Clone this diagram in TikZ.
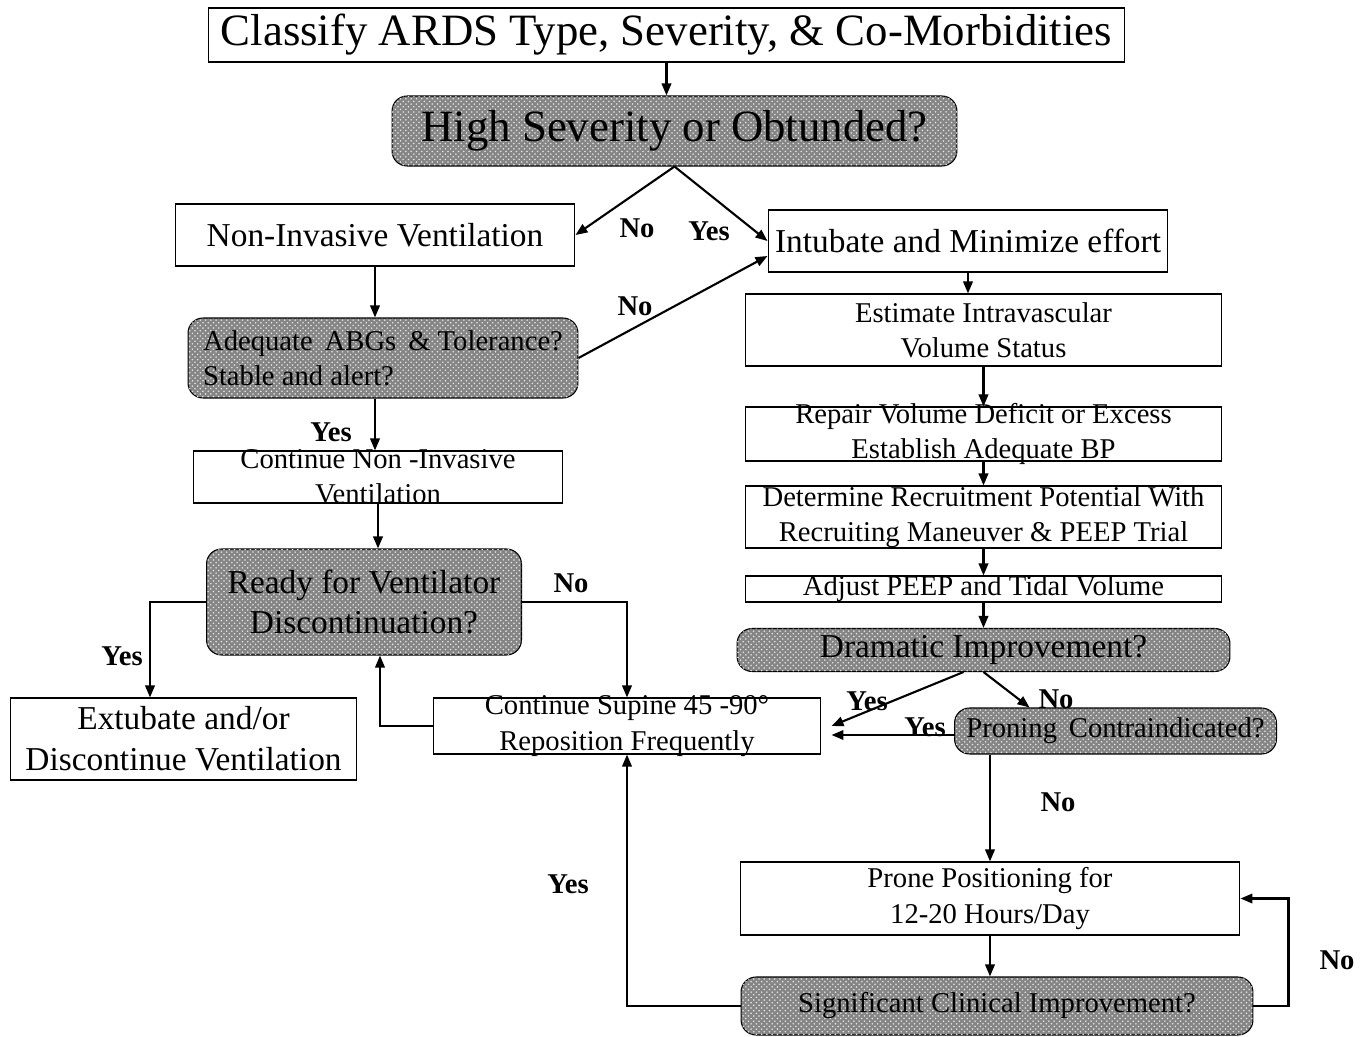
\documentclass[tikz,border=0pt]{standalone}
\usepackage{fontspec}
\setmainfont{Liberation Serif}
\usepackage{tikz}
\usetikzlibrary{arrows.meta,patterns}

\newcommand{\bigtxt}{\fontsize{25.5}{28}\selectfont}
\newcommand{\midtxt}{\fontsize{19}{23.2}\selectfont}
\newcommand{\smltxt}{\fontsize{16.3}{20}\selectfont}

\begin{document}
\begin{tikzpicture}[x=0.02cm,y=-0.02cm,->,>={Stealth[length=0.24cm,width=0.19cm,inset=0pt]},line width=1.2pt,
  box/.style={draw,line width=0.6pt,fill=white,inner xsep=0pt,inner ysep=-8pt,align=center,font=\smltxt},
  dec node/.style={box,rounded corners=0.3cm,fill=black!48,postaction={pattern=crosshatch dots,pattern color=white!80!gray}},
  lbl/.style={font=\smltxt\bfseries,inner sep=0pt}]
    \useasboundingbox (0,0) rectangle (1370,1037);

    \node[box,minimum width=18.34cm,minimum height=1.08cm,font=\bigtxt] (title) at (666.5,35) {Classify ARDS Type, Severity, \& Co-Morbidities};
    \node[dec node,minimum width=11.3cm,minimum height=1.4cm,font=\bigtxt] (high) at (674.5,131) {High Severity or Obtunded?};

    \node[box,minimum width=8cm,minimum height=1.24cm,font=\midtxt] (niv) at (375,235) {Non-Invasive Ventilation};
    \node[box,minimum width=8cm,minimum height=1.24cm,font=\midtxt] (intub) at (968,241) {Intubate and Minimize effort};
    \node[dec node,minimum width=7.8cm,minimum height=1.6cm,align=left] (adeq) at (383,358) {Adequate\, ABGs\, \& Tolerance?\\Stable and alert?};
    \node[box,minimum width=7.4cm,minimum height=1.04cm] (cniv) at (378,477) {Continue Non -Invasive\\Ventilation};
    \node[dec node,minimum width=6.3cm,minimum height=2.12cm,font=\midtxt] (ready) at (364,602) {Ready for Ventilator\\Discontinuation?};
    \node[box,minimum width=6.94cm,minimum height=1.64cm,font=\midtxt] (extub) at (183.5,739) {Extubate and/or\\Discontinue Ventilation};
    \node[box,minimum width=7.76cm,minimum height=1.12cm] (sup) at (627,726) {Continue Supine 45 -90\textdegree\\Reposition Frequently};

    \node[box,minimum width=9.54cm,minimum height=1.44cm] (est) at (983.5,330) {Estimate Intravascular\\Volume Status};
    \node[box,minimum width=9.54cm,minimum height=1.08cm] (rep) at (983.5,434) {Repair Volume Deficit or Excess\\Establish Adequate BP};
    \node[box,minimum width=9.54cm,minimum height=1.24cm] (det) at (983.5,517) {Determine Recruitment Potential With\\Recruiting Maneuver \& PEEP Trial};
    \node[box,minimum width=9.54cm,minimum height=0.52cm] (adj) at (983.5,589) {Adjust PEEP and Tidal Volume};
    \node[dec node,minimum width=9.86cm,minimum height=0.86cm,font=\midtxt] (dram) at (983.5,650) {Dramatic Improvement?};
    \node[dec node,minimum width=6.44cm,minimum height=0.92cm] (pron) at (1115.5,731) {Proning\, Contraindicated?};
    \node[box,minimum width=10cm,minimum height=1.46cm] (prone) at (990,898.5) {Prone Positioning for\\12-20 Hours/Day};
    \node[dec node,minimum width=10.24cm,minimum height=1.16cm] (sig) at (997,1006) {Significant Clinical Improvement?};

    \node[lbl] (no1) at (637,228) {No};
    \node[lbl] (yes1) at (709,231) {Yes};
    \node[lbl] (no2) at (635,306) {No};
    \node[lbl] (yes2) at (331,432) {Yes};
    \node[lbl] (yes3) at (122,656) {Yes};
    \node[lbl] (no3) at (571,583) {No};
    \node[lbl] (yes4) at (867,701) {Yes};
    \node[lbl] (no4) at (1056,699) {No};
    \node[lbl] (yes5) at (925,727) {Yes};
    \node[lbl] (no5) at (1058,802) {No};
    \node[lbl] (yes6) at (568,884) {Yes};
    \node[lbl] (no6) at (1337,960) {No};

    \draw (title.south) -- (title.south |- high.north);
    \draw (high.south) -- (niv.east);
    \draw (high.south) -- (intub.west);
    \draw (niv.south) -- (niv.south |- adeq.north);
    \draw (adeq.east) -- ([yshift=-0.3cm]intub.west);
    \draw (adeq.south -| niv.south) -- (niv.south |- cniv.north);
    \draw (cniv.south) -- (cniv.south |- ready.north);
    \draw (ready.west) -| ([xshift=-0.67cm]extub.north);
    \draw (ready.east) -| (sup.north);
    \draw (sup.west) -| ([xshift=0.32cm]ready.south);

    \draw (intub.south) -- (intub.south |- est.north);
    \draw (est.south) -- (rep.north);
    \draw (rep.south) -- (det.north);
    \draw (det.south) -- (adj.north);
    \draw (adj.south) -- (dram.north);
    \draw ([xshift=-0.4cm]dram.south) -- ([xshift=0.2cm]sup.east);
    \draw (dram.south) -- ([xshift=-1.72cm]pron.north);
    \draw ([yshift=-0.08cm]pron.west) -- ([yshift=-0.08cm,xshift=0.2cm]sup.east |- pron.west);
    \draw (prone.north |- pron.south) -- (prone.north);
    \draw (prone.south) -- (prone.south |- sig.north);
    \draw (sig.east) -- ++(0.7cm,0) |- (prone.east);
    \draw (sig.west) -| (sup.south);
\end{tikzpicture}
\end{document}
